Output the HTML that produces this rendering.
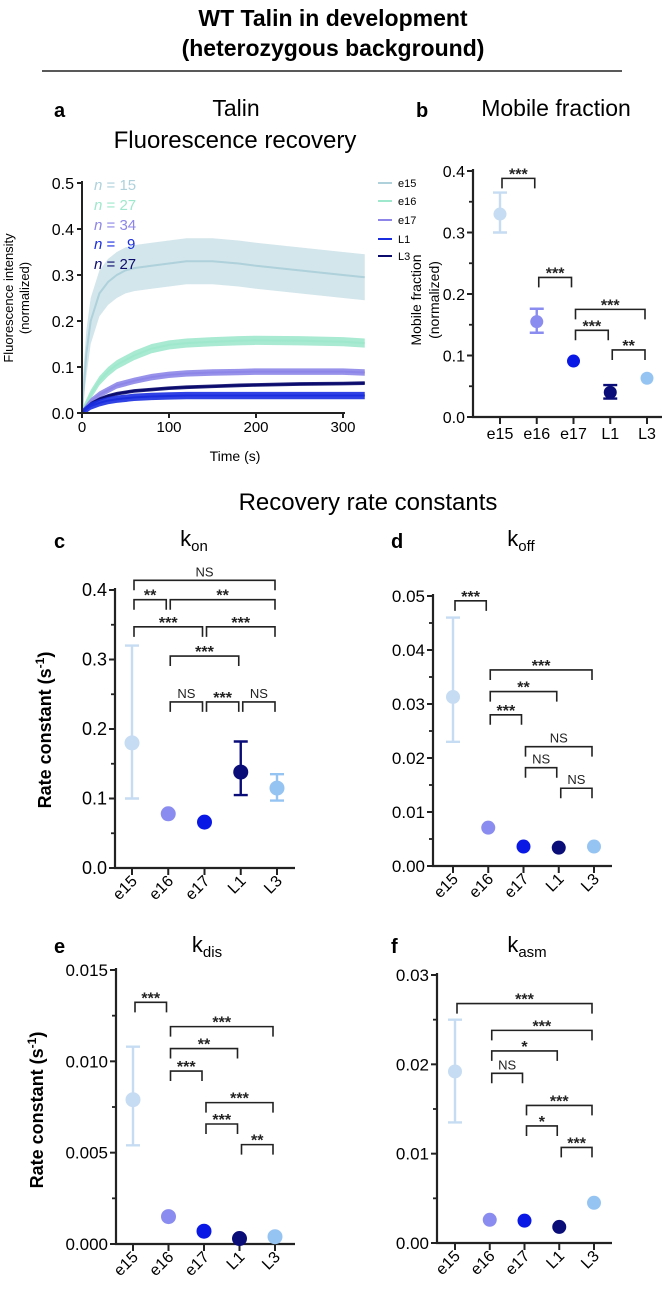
<!DOCTYPE html>
<html><head><meta charset="utf-8"><style>
body{margin:0;background:#fff}
svg{display:block;font-family:"Liberation Sans",Arial,sans-serif}
</style></head><body>
<svg id="fig" width="666" height="1293" viewBox="0 0 666 1293">
<text x="333" y="26" text-anchor="middle" font-size="23" font-weight="bold">WT Talin in development</text>
<text x="333" y="56" text-anchor="middle" font-size="23" font-weight="bold">(heterozygous background)</text>
<line x1="42" y1="71" x2="622" y2="71" stroke="#222" stroke-width="1.5"/>
<text x="54" y="117" font-size="20" font-weight="bold">a</text>
<text x="236" y="116" text-anchor="middle" font-size="23">Talin</text>
<text x="235" y="148" text-anchor="middle" font-size="24">Fluorescence recovery</text>
<text x="416" y="117" font-size="20" font-weight="bold">b</text>
<text x="556" y="116" text-anchor="middle" font-size="23">Mobile fraction</text>
<text x="368" y="510" text-anchor="middle" font-size="24">Recovery rate constants</text>
<text x="54" y="548" font-size="20" font-weight="bold">c</text>
<text x="194" y="546" text-anchor="middle" font-size="22">k<tspan font-size="15" dy="5">on</tspan></text>
<text x="391" y="548" font-size="20" font-weight="bold">d</text>
<text x="521" y="546" text-anchor="middle" font-size="22">k<tspan font-size="15" dy="5">off</tspan></text>
<text x="54" y="953" font-size="20" font-weight="bold">e</text>
<text x="207" y="952" text-anchor="middle" font-size="22">k<tspan font-size="15" dy="5">dis</tspan></text>
<text x="391" y="953" font-size="20" font-weight="bold">f</text>
<text x="527" y="952" text-anchor="middle" font-size="22">k<tspan font-size="15" dy="5">asm</tspan></text>
</svg>
<script>
// ---- Panel a data ----
const timesA = [0,5,10,20,30,40,50,60,80,100,120,150,180,200,250,300,325];
const e15Trace = [0,0.13,0.2,0.26,0.285,0.3,0.31,0.315,0.32,0.325,0.33,0.33,0.325,0.32,0.31,0.30,0.295];
const e16Trace = [0,0.02,0.04,0.07,0.09,0.105,0.115,0.125,0.14,0.148,0.152,0.155,0.157,0.158,0.157,0.155,0.152];
const e17Trace = [0,0.013,0.025,0.04,0.05,0.06,0.065,0.07,0.078,0.083,0.086,0.088,0.089,0.09,0.09,0.09,0.088];
const L1Trace = [0,0.008,0.015,0.022,0.027,0.03,0.032,0.034,0.036,0.037,0.038,0.038,0.038,0.038,0.038,0.038,0.038];
const L3Trace = [0,0.01,0.02,0.03,0.037,0.042,0.045,0.048,0.051,0.054,0.056,0.058,0.06,0.061,0.063,0.064,0.065];
const traceErr = [0.05,0.01,0.007,0.008,0.004];
const traceLabels = ['e15','e16','e17','L1','L3'];
const nLabels = ['15','27','34',' 9','27'];
const xTicksA = [0,100,200,300];
const yTicksA = [0,0.1,0.2,0.3,0.4,0.5];

// ---- Scatter panels data ----
const cats = ['e15','e16','e17','L1','L3'];
const catColors = ['#c6dcf2','#8a8cf0','#0a18e6','#0a0c78','#96c4f2'];
const mfVal = [0.33,0.155,0.091,0.04,0.063];
const mfLo = [0.30,0.137,null,0.03,null];
const mfHi = [0.365,0.176,null,0.052,null];
const konVal = [0.18,0.078,0.066,0.138,0.115];
const konLo = [0.10,null,null,0.105,0.097];
const konHi = [0.32,null,null,0.182,0.135];
const koffVal = [0.0313,0.0071,0.0036,0.0034,0.0036];
const koffLo = [0.023,null,null,null,null];
const koffHi = [0.046,null,null,null,null];
const kdisVal = [0.0079,0.0015,0.0007,0.0003,0.0004];
const kdisLo = [0.0054,null,null,null,null];
const kdisHi = [0.0108,null,null,null,null];
const kasmVal = [0.0192,0.0026,0.0025,0.0018,0.0045];
const kasmLo = [0.0135,null,null,null,null];
const kasmHi = [0.025,null,null,null,null];
// brackets: [fromIdx, toIdx, level, label]
const mfBr = [[0,1,0.388,'***'],[1,2,0.227,'***'],[2,4,0.175,'***'],[2,3,0.141,'***'],[3,4,0.109,'**']];
const konBr = [[0,4,0.414,'NS'],[0,1,0.386,'**'],[1,4,0.386,'**'],[0,2,0.347,'***'],[2,4,0.347,'***'],[1,3,0.305,'***'],[1,2,0.239,'NS'],[2,3,0.239,'***'],[3,4,0.239,'NS']];
const koffBr = [[0,1,0.0491,'***'],[1,4,0.0363,'***'],[1,3,0.0323,'**'],[1,2,0.028,'***'],[2,4,0.0221,'NS'],[2,3,0.0182,'NS'],[3,4,0.0144,'NS']];
const kdisBr = [[0,1,0.01323,'***'],[1,4,0.0119,'***'],[1,3,0.0107,'**'],[1,2,0.00947,'***'],[2,4,0.00774,'***'],[2,3,0.00657,'***'],[3,4,0.00544,'**']];
const kasmBr = [[0,4,0.0268,'***'],[1,4,0.0238,'***'],[1,3,0.0215,'*'],[1,2,0.019,'NS'],[2,4,0.0154,'***'],[2,3,0.0131,'*'],[3,4,0.0107,'***']];
const mfTicks = [0,0.1,0.2,0.3,0.4];
const konTicks = [0,0.1,0.2,0.3,0.4];
const koffTicks = [0,0.01,0.02,0.03,0.04,0.05];
const kdisTicks = [0,0.005,0.010,0.015];
const kasmTicks = [0,0.01,0.02,0.03];

const NS='http://www.w3.org/2000/svg';
const svg=document.getElementById('fig');
function mk(tag,attrs,parent){const e=document.createElementNS(NS,tag);for(const k in attrs)e.setAttribute(k,attrs[k]);(parent||svg).appendChild(e);return e;}

// ---- Panel a ----
(function(){
  const g=mk('g',{});
  
  
  const X=t=>82+t*0.87, Y=v=>413-v*460;
  const traces=[e15Trace,e16Trace,e17Trace,L1Trace,L3Trace];
  const cols=['#aed1db','#9fe8cd','#8d86e8','#1a2ee0','#0b0b6e'];
  const order=[0,1,2,4,3];
  order.forEach(i=>{
    const tr=traces[i];
    let up='',dn='';
    tr.forEach((v,j)=>{up+=(j?'L':'M')+X(timesA[j])+','+Y(v+traceErr[i]);});
    for(let j=tr.length-1;j>=0;j--){dn+='L'+X(timesA[j])+','+Y(Math.max(0,tr[j]-traceErr[i]));}
    const band=mk('path',{d:up+dn+'Z',fill:cols[i],opacity:i===0?0.55:0.9},g);
    
    
    let d='';tr.forEach((v,j)=>{d+=(j?'L':'M')+X(timesA[j])+','+Y(v);});
    const ln=mk('path',{d,fill:'none',stroke:cols[i],'stroke-width':2},g);
    
    
  });
  mk('path',{d:'M82,181V413H345',fill:'none',stroke:'#222','stroke-width':2},g);
  yTicksA.forEach(v=>{
    mk('line',{x1:77,x2:82,y1:Y(v),y2:Y(v),stroke:'#222','stroke-width':2},g);
    const t=mk('text',{x:74,y:Y(v)+6,'text-anchor':'end','font-size':16},g);t.textContent=v.toFixed(1);
    
    
  });
  xTicksA.forEach(v=>{
    mk('line',{x1:X(v),x2:X(v),y1:413,y2:418,stroke:'#222','stroke-width':2},g);
    const t=mk('text',{x:X(v),y:432,'text-anchor':'middle','font-size':15},g);t.textContent=v;
    
    
  });
  const xt=mk('text',{x:235,y:461,'text-anchor':'middle','font-size':14},g);xt.textContent='Time (s)';
  
  
  const yt=mk('text',{transform:'translate(13,298) rotate(-90)','text-anchor':'middle','font-size':13},g);yt.textContent='Fluorescence intensity';
  
  
  const yt2=mk('text',{transform:'translate(29,298) rotate(-90)','text-anchor':'middle','font-size':13},g);yt2.textContent='(normalized)';
  
  
  const ly=[187,205,224,243,260], ny=[190,210,230,249,269];
  const ncol=['#aed1db','#9fe8cd','#8d86e8','#1a2ee0','#0b0b6e'];
  traceLabels.forEach((l,i)=>{
    const s=mk('line',{x1:378,x2:392,y1:ly[i]-4,y2:ly[i]-4,stroke:cols[i],'stroke-width':2},g);
    
    
    const t=mk('text',{x:398,y:ly[i],'font-size':11},g);t.textContent=l;
    
    
    const n=mk('text',{x:94,y:ny[i],'font-size':15,fill:ncol[i]},g);
    n.innerHTML='<tspan font-style="italic">n</tspan> = '+nLabels[i].replace(' ','\u2002');
    
    
  });
})();

// ---- Scatter panels ----
function scatter(o){
  const g=mk('g',{});
  
  
  const Y=v=>o.y0-(v/o.max)*(o.y0-o.ytop);
  const X=i=>o.cx0+i*o.step;
  mk('path',{d:`M${o.x0},${o.ytop-2}V${o.y0}H${o.xend}`,fill:'none',stroke:'#222','stroke-width':2.2},g);
  o.ticks.forEach((v,i)=>{
    mk('line',{x1:o.x0-6,x2:o.x0,y1:Y(v),y2:Y(v),stroke:'#222','stroke-width':2},g);
    if(i<o.ticks.length-1){const m=(v+o.ticks[i+1])/2;mk('line',{x1:o.x0-4,x2:o.x0,y1:Y(m),y2:Y(m),stroke:'#222','stroke-width':1.8},g);}
    const t=mk('text',{x:o.x0-8,y:Y(v)+6,'text-anchor':'end','font-size':o.fs},g);t.textContent=v.toFixed(o.dec);
    
    
  });
  cats.forEach((c,i)=>{
    mk('line',{x1:X(i),x2:X(i),y1:o.y0,y2:o.y0+7,stroke:'#222','stroke-width':2},g);
    let t;
    if(o.rot){t=mk('text',{transform:`translate(${X(i)+6},${o.y0+14}) rotate(-45)`,'text-anchor':'end','font-size':16},g);}
    else{t=mk('text',{x:X(i),y:o.y0+22,'text-anchor':'middle','font-size':16},g);}
    t.textContent=c;
    
    
  });
  o.br.forEach(b=>{
    const x1=X(b[0])+2,x2=X(b[1])-2,y=Y(b[2]);
    const p=mk('path',{d:`M${x1},${y+10}V${y}H${x2}V${y+10}`,fill:'none',stroke:'#222','stroke-width':1.6},g);
    
    
    const t=mk('text',{x:(x1+x2)/2,y:b[3]==='NS'?y-4:y+1,'text-anchor':'middle','font-size':b[3]==='NS'?13:16,'font-weight':b[3]==='NS'?'normal':'bold',fill:'#222'},g);
    t.textContent=b[3];
    
    
  });
  o.val.forEach((v,i)=>{
    if(o.lo[i]!=null){
      const e=mk('path',{d:`M${X(i)},${Y(o.lo[i])}V${Y(o.hi[i])}M${X(i)-7},${Y(o.lo[i])}H${X(i)+7}M${X(i)-7},${Y(o.hi[i])}H${X(i)+7}`,stroke:catColors[i],'stroke-width':2.4,fill:'none'},g);
      
      
    }
    const c=mk('circle',{cx:X(i),cy:Y(v),r:o.r,fill:catColors[i]},g);
    
    
  });
  if(o.ylab){
    o.ylab.forEach((l,k)=>{
      const t=mk('text',{transform:`translate(${o.ylx[k]},${o.yly}) rotate(-90)`,'text-anchor':'middle','font-size':o.ylfs,'font-weight':o.ylbold?'bold':'normal'},g);
      t.innerHTML=l;
      
      
    });
  }
}
scatter({name:'panel-b-chart',x0:473,y0:417,ytop:171,max:0.4,ticks:mfTicks,dec:1,fs:16,cx0:500,step:36.75,xend:662,rot:false,val:mfVal,lo:mfLo,hi:mfHi,br:mfBr,r:6.5,
  ylab:['Mobile fraction','(normalized)'],ylx:[421,439],yly:300,ylfs:14});
scatter({name:'panel-c-chart',x0:115,y0:868,ytop:590,max:0.4,ticks:konTicks,dec:1,fs:18,cx0:132,step:36.25,xend:295,rot:true,val:konVal,lo:konLo,hi:konHi,br:konBr,r:7.5,
  ylab:['Rate constant (s<tspan dy="-7" font-size="12">-1</tspan><tspan dy="7">)</tspan>'],ylx:[51],yly:730,ylfs:18,ylbold:true});
scatter({name:'panel-d-chart',x0:433,y0:866,ytop:596,max:0.05,ticks:koffTicks,dec:2,fs:17,cx0:453,step:35.25,xend:612,rot:true,val:koffVal,lo:koffLo,hi:koffHi,br:koffBr,r:7});
scatter({name:'panel-e-chart',x0:116,y0:1244,ytop:970,max:0.015,ticks:kdisTicks,dec:3,fs:17,cx0:133,step:35.5,xend:295,rot:true,val:kdisVal,lo:kdisLo,hi:kdisHi,br:kdisBr,r:7.5,
  ylab:['Rate constant (s<tspan dy="-7" font-size="12">-1</tspan><tspan dy="7">)</tspan>'],ylx:[43],yly:1110,ylfs:18,ylbold:true});
scatter({name:'panel-f-chart',x0:437,y0:1243,ytop:975,max:0.03,ticks:kasmTicks,dec:2,fs:17,cx0:455,step:34.75,xend:612,rot:true,val:kasmVal,lo:kasmLo,hi:kasmHi,br:kasmBr,r:7});
</script>
</body></html>
